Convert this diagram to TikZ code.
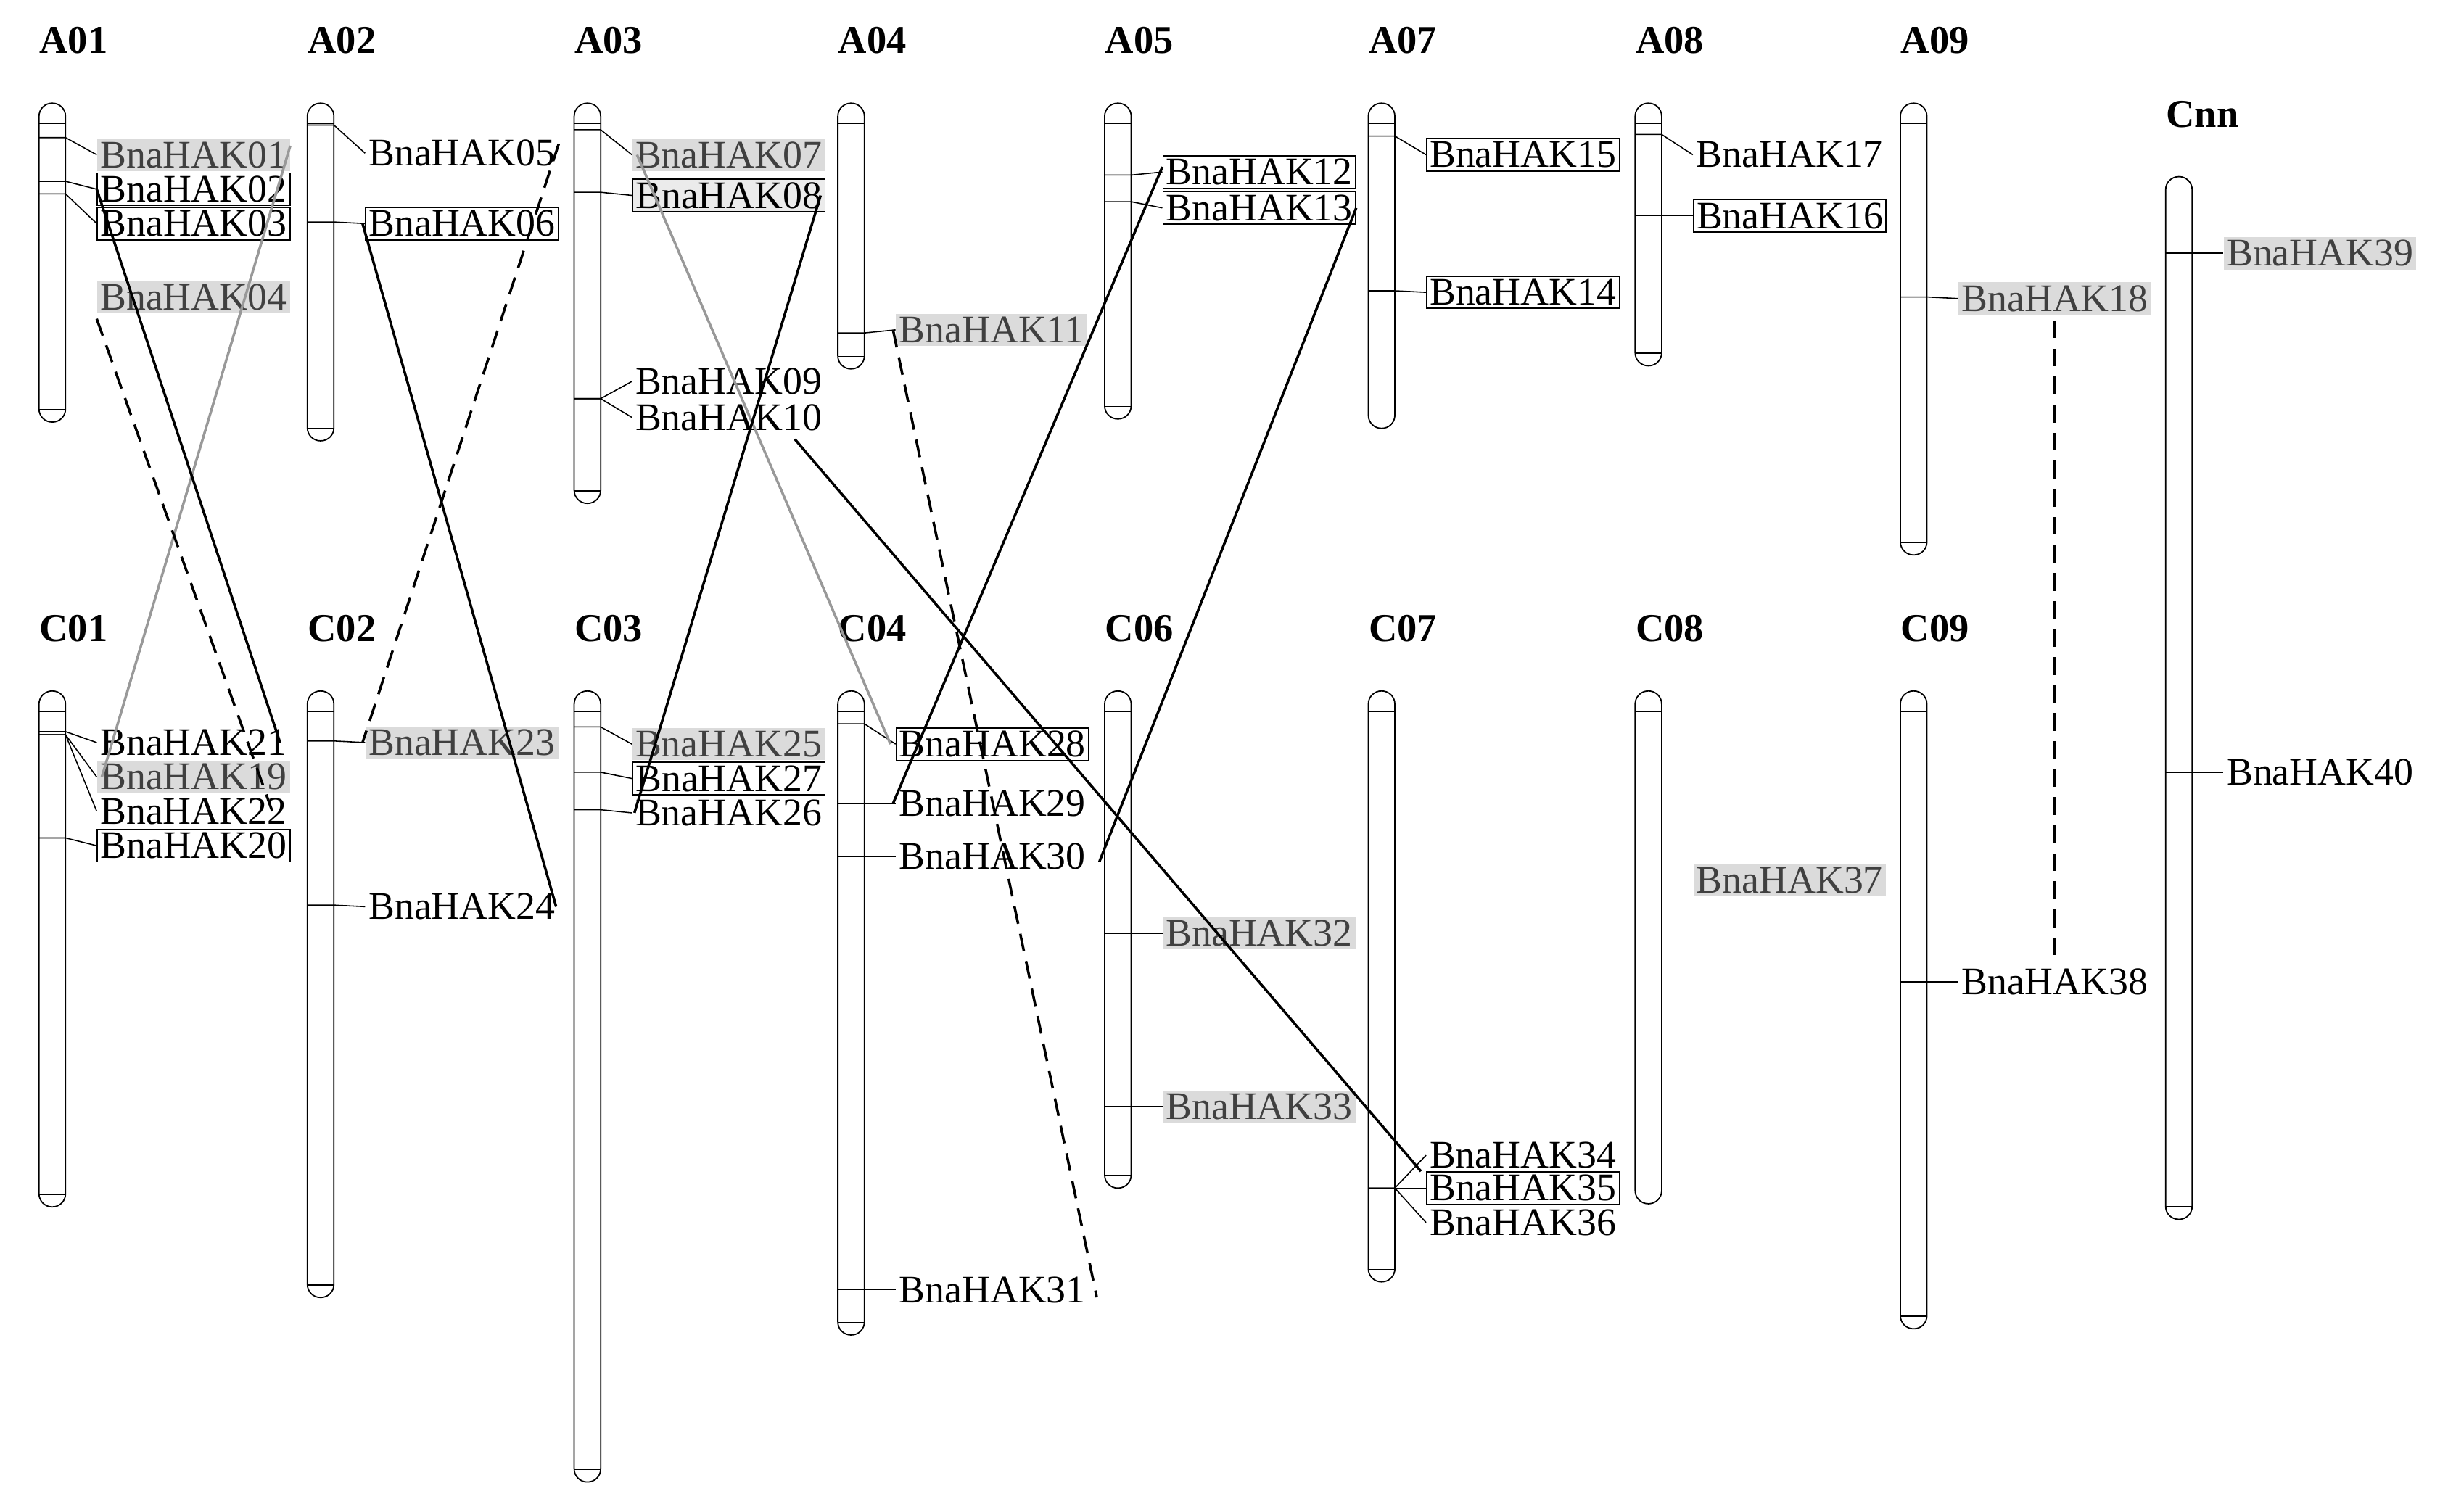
\documentclass[tikz,border=0pt]{standalone}
\usepackage{fontspec}
\setmainfont{Liberation Serif}
\begin{document}
\begin{tikzpicture}[x=0.021507cm,y=-0.021545cm,
  chrom/.style={draw,line width=0.5pt,rounded corners=0.18cm},
  title/.style={anchor=west,inner sep=0pt,font=\fontsize{15.5}{16}\selectfont\bfseries},
  lab/.style={anchor=west,inner sep=1.2pt,font=\fontsize{15.3}{16}\selectfont},
  plain/.style={},
  gr/.style={fill=black!14,text=black!75},
  bx/.style={draw,line width=0.5pt},
  tick/.style={line width=0.45pt},
  link/.style={line width=1pt},
  glink/.style={line width=1pt,black!40},
  dlink/.style={line width=1pt,dash pattern=on 7pt off 4pt}]
\useasboundingbox (0,0) rectangle (1569,966.8);
\newcommand\chrm[5]{%
  \draw[chrom] (#1,#2) rectangle (#1+17,#3);
  \draw[tick] (#1,#2+13) -- (#1+17,#2+13);
  \draw[tick] (#1,#3-8) -- (#1+17,#3-8);
  \node[title] (t#5) at (#1,#2-40) {#4};}
\newcommand\gene[5]{%
  \draw[tick] (#1,#2) -- (#1+17,#2) -- (#1+37,#3);
  \node[lab,#5] (g#4) at (#1+37,#3) {BnaHAK#4};}
\chrm{25}{66}{270}{A01}{a1}
\chrm{197}{66}{282}{A02}{a2}
\chrm{368}{66}{322}{A03}{a3}
\chrm{537}{66}{236}{A04}{a4}
\chrm{708}{66}{268}{A05}{a5}
\chrm{877}{66}{274}{A07}{a7}
\chrm{1048}{66}{234}{A08}{a8}
\chrm{1218}{66}{355}{A09}{a9}
\chrm{1388}{113}{780}{Cnn}{cn}
\chrm{25}{442}{772}{C01}{c1}
\chrm{197}{442}{830}{C02}{c2}
\chrm{368}{442}{948}{C03}{c3}
\chrm{537}{442}{854}{C04}{c4}
\chrm{708}{442}{760}{C06}{c6}
\chrm{877}{442}{820}{C07}{c7}
\chrm{1048}{442}{770}{C08}{c8}
\chrm{1218}{442}{850}{C09}{c9}
\gene{25}{88}{99}{01}{gr}
\gene{25}{116}{121}{02}{bx}
\gene{25}{124}{143}{03}{bx}
\gene{25}{190}{190}{04}{gr}
\gene{197}{80}{98}{05}{plain}
\gene{197}{142}{143}{06}{bx}
\gene{368}{83}{99}{07}{gr}
\gene{368}{123}{125}{08}{bx,fill=black!8}
\gene{368}{255}{244}{09}{plain}
\gene{368}{255}{267}{10}{plain}
\gene{537}{213}{211}{11}{gr}
\gene{708}{112}{110}{12}{bx}
\gene{708}{129}{133}{13}{bx}
\gene{877}{87}{99}{15}{bx}
\gene{877}{186}{187}{14}{bx}
\gene{1048}{86}{99}{17}{plain}
\gene{1048}{138}{138}{16}{bx}
\gene{1218}{190}{191}{18}{gr}
\gene{1388}{162}{162}{39}{gr}
\gene{1388}{494}{494}{40}{plain}
\gene{25}{468}{475}{21}{plain}
\gene{25}{470}{497}{19}{gr}
\gene{25}{470}{519}{22}{plain}
\gene{25}{536}{541}{20}{bx}
\gene{197}{474}{475}{23}{gr}
\gene{197}{579}{580}{24}{plain}
\gene{368}{465}{476}{25}{gr}
\gene{368}{494}{498}{27}{bx}
\gene{368}{518}{520}{26}{plain}
\gene{537}{463}{476}{28}{bx}
\gene{537}{514}{514}{29}{plain}
\gene{537}{548}{548}{30}{plain}
\gene{537}{825}{825}{31}{plain}
\gene{708}{597}{597}{32}{gr}
\gene{708}{708}{708}{33}{gr}
\gene{877}{760}{739}{34}{plain}
\gene{877}{760}{760}{35}{bx}
\gene{877}{760}{782}{36}{plain}
\gene{1048}{563}{563}{37}{gr}
\gene{1218}{628}{628}{38}{plain}
\draw[glink] ([yshift=-3pt]g01.north east) -- ([xshift=2pt]g19.west);
\draw[link] (g02.west) -- ([xshift=-4pt]g21.east);
\draw[dlink] ([yshift=-2pt]g04.south west) -- ([xshift=-6pt,yshift=-3pt]g22.east);
\draw[dlink] ([yshift=-3pt]g05.north east) -- ([xshift=-1pt]g23.west);
\draw[link] ([xshift=-1pt]g06.west) -- ([xshift=-1pt]g24.east);
\draw[glink] ([xshift=2pt]g07.west) -- ([xshift=-2pt]g28.west);
\draw[link] ([xshift=-2pt]g08.east) -- ([xshift=1pt]g26.west);
\draw[link] ([xshift=-12pt,yshift=-2pt]g10.south east) -- ([xshift=-2pt]g35.north west);
\draw[dlink] ([xshift=-1pt]g11.west) -- ([xshift=3pt,yshift=-3pt]g31.east);
\draw[link] ([yshift=2pt]g12.west) -- ([xshift=-1pt]g29.west);
\draw[link] (g13.east) -- ([xshift=4pt,yshift=-2pt]g30.east);
\draw[dlink] ([yshift=-2pt]g18.south) -- (g18.south |- g38.north);
\end{tikzpicture}
\end{document}
